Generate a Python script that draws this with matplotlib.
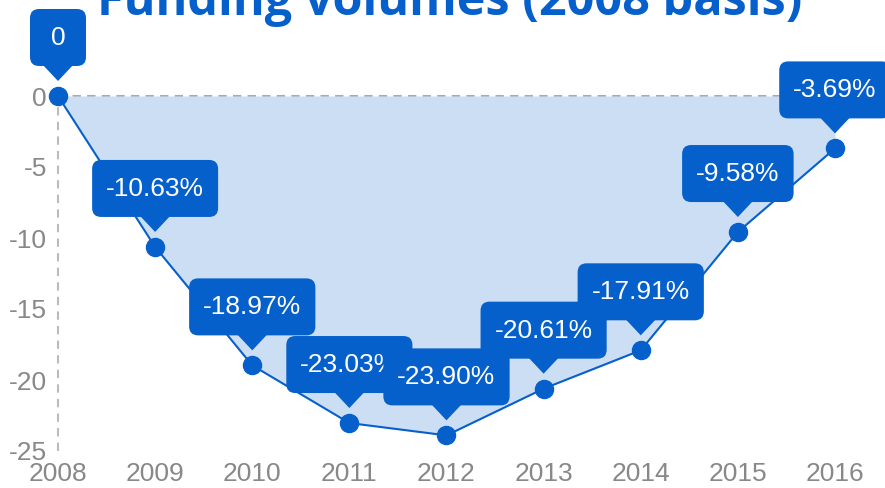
import matplotlib.pyplot as plt
from matplotlib.patches import FancyBboxPatch, Polygon
import matplotlib.transforms as mtransforms

plt.rcParams["axes.unicode_minus"] = False

years = [2008, 2009, 2010, 2011, 2012, 2013, 2014, 2015, 2016]
change = [0, -10.63, -18.97, -23.03, -23.90, -20.61, -17.91, -9.58, -3.69]
labels = ["0", "-10.63%", "-18.97%", "-23.03%", "-23.90%", "-20.61%", "-17.91%", "-9.58%", "-3.69%"]
yticks = [0, -5, -10, -15, -20, -25]

blue = "#0560CC"
fill = "#CCDEF3"
grey = "#888888"

W, H = 885, 488
DPI = 100
fig = plt.figure(figsize=(W / DPI, H / DPI), dpi=DPI)
ax = fig.add_axes([58 / W, 1 - 451 / H, 1 - 58 / W, (451 - 96) / H])
ax.set_xlim(2008, 2016.515)
ax.set_ylim(-25, 0)

for s in ax.spines.values():
    s.set_visible(False)

# reference lines
ax.axhline(0, color="#aaaaaa", lw=1.5, ls=(0, (4, 3)), zorder=1, clip_on=False)
ax.axvline(2008, color="#bbbbbb", lw=1.5, ls=(0, (4, 3)), zorder=1, clip_on=False)

ax.fill_between(years, change, 0, color=fill, lw=0, zorder=2)
ax.plot(years, change, color=blue, lw=1.5, marker="o", ms=13, zorder=3, clip_on=False)

ax.set_xticks(years)
ax.set_yticks(yticks)
ax.tick_params(length=0, labelsize=19, labelcolor=grey)
ax.tick_params(axis="y", pad=8)
ax.tick_params(axis="x", pad=8)
for t in ax.get_xticklabels() + ax.get_yticklabels():
    t.set_fontfamily("Liberation Sans")

# callout labels: rounded box with a pointer, sizes in pixels
renderer = fig.canvas.get_renderer()
px = 1 / DPI
for i, (x, y, lab) in enumerate(zip(years, change, labels)):
    tr = fig.dpi_scale_trans + mtransforms.ScaledTranslation(x, y, ax.transData)
    z = 4 + i * 0.1
    txt = ax.text(0, 58 * px, lab, transform=tr, ha="center", va="center",
                  fontsize=19, color="white", family="Liberation Sans",
                  clip_on=False, zorder=z + 0.05)
    tw = txt.get_window_extent(renderer).width
    bw = max(tw + 28, 56)
    bh = 57
    box = FancyBboxPatch((-bw / 2 * px, 30 * px), bw * px, bh * px,
                         boxstyle="round,pad=0,rounding_size=%f" % (9 * px),
                         transform=tr, fc=blue, ec="none", clip_on=False, zorder=z)
    ax.add_patch(box)
    tri = Polygon([(-16 * px, 32 * px), (16 * px, 32 * px), (0, 15 * px)],
                  closed=True, transform=tr, fc=blue, ec="none", clip_on=False, zorder=z)
    ax.add_patch(tri)

fig.text(0.508, 1 - 15 / H, "Funding volumes (2008 basis)", ha="center", va="baseline",
         fontsize=35, fontweight="bold", color=blue, family="Open Sans")

fig.savefig("out.png", dpi=DPI)
